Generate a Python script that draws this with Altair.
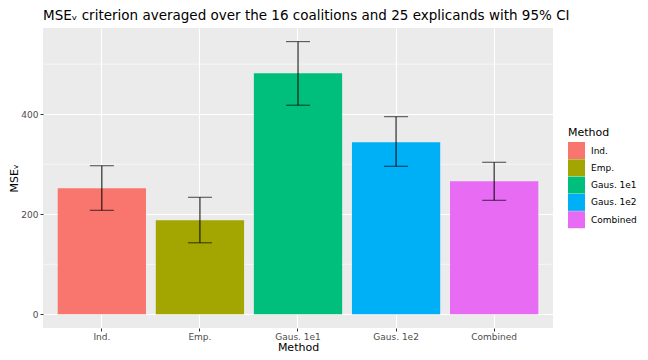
import altair as alt
import pandas as pd

methods = ["Ind.", "Emp.", "Gaus. 1e1", "Gaus. 1e2", "Combined"]
means = [252, 188, 482, 344, 266]
lowers = [208, 143, 418, 296, 228]
uppers = [297, 234, 545, 395, 304]
colors = ["#F8766D", "#A3A500", "#00BF7D", "#00B0F6", "#E76BF3"]
major_ticks = [0, 200, 400]
minor_grid = [100, 300, 500]

df = pd.DataFrame({"Method": methods, "mean": means, "lower": lowers,
                   "upper": uppers, "base": [0] * len(methods)})
grid_df = pd.DataFrame({"g": minor_grid})

FONT = "DejaVu Sans"
xscale = alt.Scale(domain=methods, paddingInner=0.1, paddingOuter=0.15)
yscale = alt.Scale(domain=[-27.25, 572.25], nice=False, zero=False)

xenc = alt.X("Method:N", scale=xscale, sort=methods,
             axis=alt.Axis(title="Method", labelAngle=0, grid=True,
                           bandPosition=0.5, labelPadding=1, titlePadding=0))
yaxis = alt.Axis(title="MSEᵥ", values=major_ticks, grid=True, labelPadding=2, titlePadding=1)

minor = alt.Chart(grid_df).mark_rule(color="white", strokeWidth=0.55).encode(
    y=alt.Y("g:Q", scale=yscale, axis=yaxis)
)

bars = alt.Chart(df).mark_bar().encode(
    x=xenc,
    y=alt.Y("mean:Q", scale=yscale, axis=yaxis),
    y2="base:Q",
    color=alt.Color("Method:N", scale=alt.Scale(domain=methods, range=colors),
                    sort=methods, legend=alt.Legend(title="Method")),
)

err = alt.Chart(df).mark_rule(color="black", strokeWidth=1).encode(
    x=xenc, y=alt.Y("lower:Q", scale=yscale), y2="upper:Q"
)
cap_lo = alt.Chart(df).mark_tick(color="black", thickness=1, size=24).encode(
    x=xenc, y=alt.Y("lower:Q", scale=yscale)
)
cap_hi = alt.Chart(df).mark_tick(color="black", thickness=1, size=24).encode(
    x=xenc, y=alt.Y("upper:Q", scale=yscale)
)

chart = alt.layer(minor, bars, err, cap_lo, cap_hi).properties(
    width=510, height=300,
    autosize=alt.AutoSizeParams(type="none"),
    padding={"left": 35, "top": 20, "right": 87, "bottom": 24},
    title=alt.TitleParams(
        "MSEᵥ criterion averaged over the 16 coalitions and 25 explicands with 95% CI",
        anchor="start", frame="group", fontSize=13.5, fontWeight="normal",
        font=FONT, color="black", offset=6),
).configure_view(fill="#EBEBEB", stroke=None).configure_axis(
    domain=False, tickColor="#333333", tickSize=3, tickWidth=1,
    labelColor="#4D4D4D", labelFontSize=9, labelFont=FONT,
    titleFontSize=11, titleFontWeight="normal", titleColor="black", titleFont=FONT,
    gridColor="white", gridWidth=1.1,
).configure_legend(
    orient="none", legendX=525, legendY=99,
    symbolType="square", symbolSize=289, symbolStrokeWidth=0,
    labelFontSize=9, labelFont=FONT, labelColor="black",
    titleFontSize=11, titleFontWeight="normal", titleFont=FONT, titleColor="black",
    rowPadding=0.3, labelOffset=6, titlePadding=4,
)

chart.save("out.html", embed_options={"renderer": "svg", "actions": False})
